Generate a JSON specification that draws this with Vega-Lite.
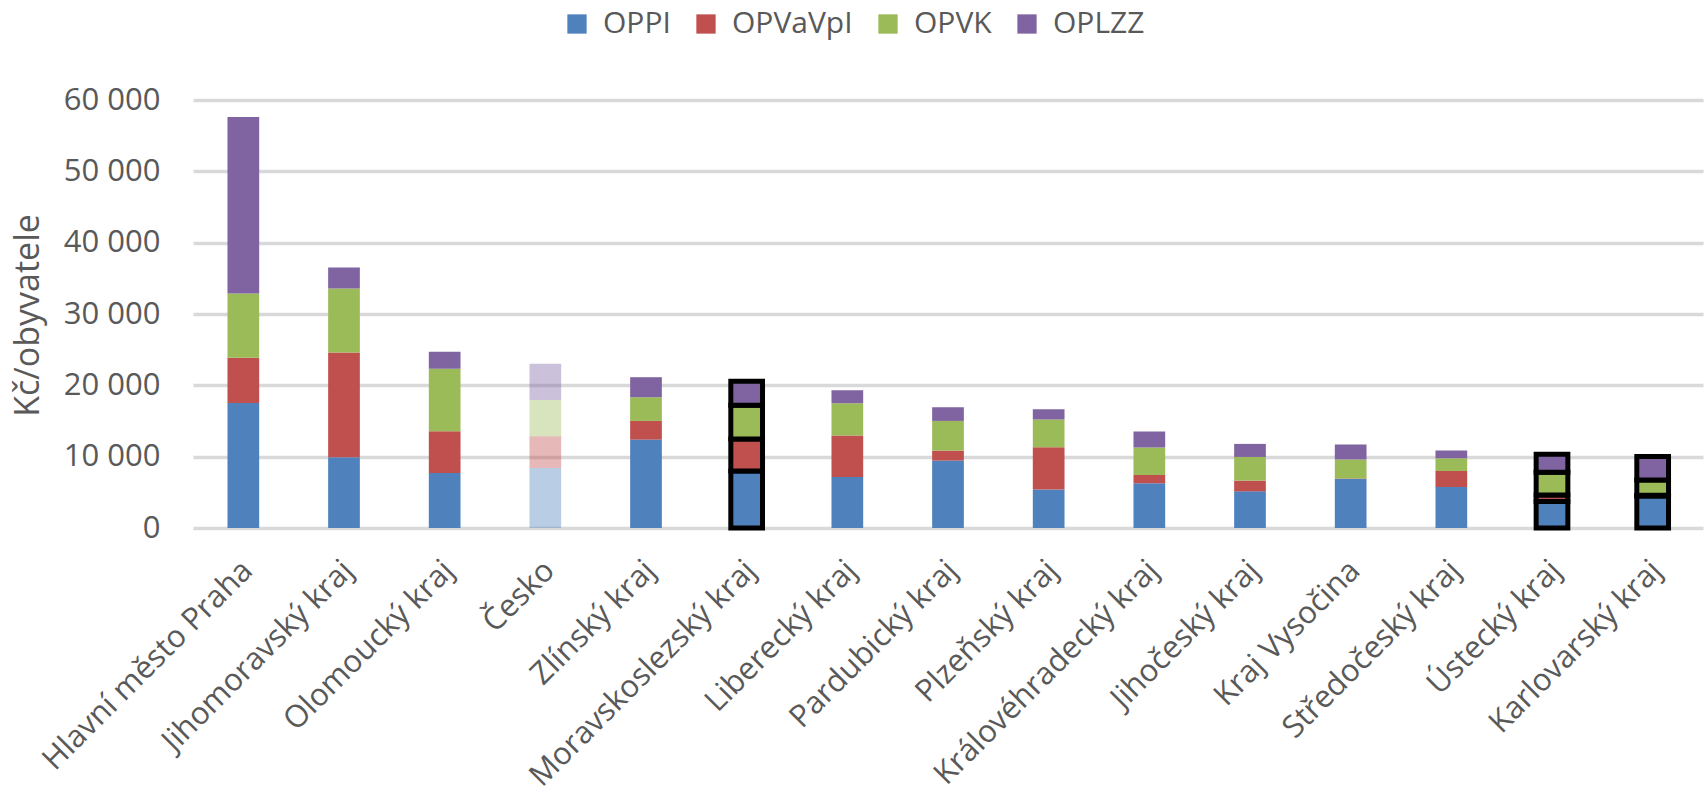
{
  "$schema": "https://vega.github.io/schema/vega-lite/v6.json",
  "autosize": {"type": "none"},
  "padding": {"left": 193, "top": 100, "right": 4, "bottom": 267},
  "width": 1510,
  "height": 428,
  "background": "white",
  "config": {
    "font": "Open Sans",
    "view": {"stroke": null}
  },
  "data": {
    "values": [
      {"kraj": "Hlavní město Praha", "program": "OPPI", "hodnota": 17540},
      {"kraj": "Hlavní město Praha", "program": "OPVaVpI", "hodnota": 6310},
      {"kraj": "Hlavní město Praha", "program": "OPVK", "hodnota": 9030},
      {"kraj": "Hlavní město Praha", "program": "OPLZZ", "hodnota": 24740},
      {"kraj": "Jihomoravský kraj", "program": "OPPI", "hodnota": 9920},
      {"kraj": "Jihomoravský kraj", "program": "OPVaVpI", "hodnota": 14680},
      {"kraj": "Jihomoravský kraj", "program": "OPVK", "hodnota": 8980},
      {"kraj": "Jihomoravský kraj", "program": "OPLZZ", "hodnota": 2950},
      {"kraj": "Olomoucký kraj", "program": "OPPI", "hodnota": 7720},
      {"kraj": "Olomoucký kraj", "program": "OPVaVpI", "hodnota": 5840},
      {"kraj": "Olomoucký kraj", "program": "OPVK", "hodnota": 8750},
      {"kraj": "Olomoucký kraj", "program": "OPLZZ", "hodnota": 2390},
      {"kraj": "Česko", "program": "OPPI", "hodnota": 8420},
      {"kraj": "Česko", "program": "OPVaVpI", "hodnota": 4440},
      {"kraj": "Česko", "program": "OPVK", "hodnota": 5100},
      {"kraj": "Česko", "program": "OPLZZ", "hodnota": 5050},
      {"kraj": "Zlínský kraj", "program": "OPPI", "hodnota": 12390},
      {"kraj": "Zlínský kraj", "program": "OPVaVpI", "hodnota": 2620},
      {"kraj": "Zlínský kraj", "program": "OPVK", "hodnota": 3320},
      {"kraj": "Zlínský kraj", "program": "OPLZZ", "hodnota": 2810},
      {"kraj": "Moravskoslezský kraj", "program": "OPPI", "hodnota": 8000},
      {"kraj": "Moravskoslezský kraj", "program": "OPVaVpI", "hodnota": 4490},
      {"kraj": "Moravskoslezský kraj", "program": "OPVK", "hodnota": 4720},
      {"kraj": "Moravskoslezský kraj", "program": "OPLZZ", "hodnota": 3370},
      {"kraj": "Liberecký kraj", "program": "OPPI", "hodnota": 7160},
      {"kraj": "Liberecký kraj", "program": "OPVaVpI", "hodnota": 5800},
      {"kraj": "Liberecký kraj", "program": "OPVK", "hodnota": 4530},
      {"kraj": "Liberecký kraj", "program": "OPLZZ", "hodnota": 1830},
      {"kraj": "Pardubický kraj", "program": "OPPI", "hodnota": 9450},
      {"kraj": "Pardubický kraj", "program": "OPVaVpI", "hodnota": 1400},
      {"kraj": "Pardubický kraj", "program": "OPVK", "hodnota": 4160},
      {"kraj": "Pardubický kraj", "program": "OPLZZ", "hodnota": 1920},
      {"kraj": "Plzeňský kraj", "program": "OPPI", "hodnota": 5380},
      {"kraj": "Plzeňský kraj", "program": "OPVaVpI", "hodnota": 5940},
      {"kraj": "Plzeňský kraj", "program": "OPVK", "hodnota": 3880},
      {"kraj": "Plzeňský kraj", "program": "OPLZZ", "hodnota": 1450},
      {"kraj": "Královéhradecký kraj", "program": "OPPI", "hodnota": 6270},
      {"kraj": "Královéhradecký kraj", "program": "OPVaVpI", "hodnota": 1170},
      {"kraj": "Královéhradecký kraj", "program": "OPVK", "hodnota": 3830},
      {"kraj": "Královéhradecký kraj", "program": "OPLZZ", "hodnota": 2250},
      {"kraj": "Jihočeský kraj", "program": "OPPI", "hodnota": 5140},
      {"kraj": "Jihočeský kraj", "program": "OPVaVpI", "hodnota": 1500},
      {"kraj": "Jihočeský kraj", "program": "OPVK", "hodnota": 3320},
      {"kraj": "Jihočeský kraj", "program": "OPLZZ", "hodnota": 1830},
      {"kraj": "Kraj Vysočina", "program": "OPPI", "hodnota": 6880},
      {"kraj": "Kraj Vysočina", "program": "OPVaVpI", "hodnota": 60},
      {"kraj": "Kraj Vysočina", "program": "OPVK", "hodnota": 2660},
      {"kraj": "Kraj Vysočina", "program": "OPLZZ", "hodnota": 2110},
      {"kraj": "Středočeský kraj", "program": "OPPI", "hodnota": 5750},
      {"kraj": "Středočeský kraj", "program": "OPVaVpI", "hodnota": 2250},
      {"kraj": "Středočeský kraj", "program": "OPVK", "hodnota": 1780},
      {"kraj": "Středočeský kraj", "program": "OPLZZ", "hodnota": 1070},
      {"kraj": "Ústecký kraj", "program": "OPPI", "hodnota": 3700},
      {"kraj": "Ústecký kraj", "program": "OPVaVpI", "hodnota": 930},
      {"kraj": "Ústecký kraj", "program": "OPVK", "hodnota": 3180},
      {"kraj": "Ústecký kraj", "program": "OPLZZ", "hodnota": 2530},
      {"kraj": "Karlovarský kraj", "program": "OPPI", "hodnota": 4490},
      {"kraj": "Karlovarský kraj", "program": "OPVaVpI", "hodnota": 100},
      {"kraj": "Karlovarský kraj", "program": "OPVK", "hodnota": 2150},
      {"kraj": "Karlovarský kraj", "program": "OPLZZ", "hodnota": 3270}
    ]
  },
  "transform": [
    {"calculate": "indexof(['OPPI','OPVaVpI','OPVK','OPLZZ'], datum.program)", "as": "poradi"}
  ],
  "mark": {"type": "bar", "stroke": "black"},
  "encoding": {
    "x": {
      "field": "kraj",
      "type": "nominal",
      "sort": null,
      "scale": {"paddingInner": 0.685, "paddingOuter": 0.3425},
      "axis": {
        "title": null,
        "domain": false,
        "ticks": false,
        "labelAngle": -45,
        "labelAlign": "right",
        "labelBaseline": "top",
        "labelPadding": 27,
        "labelOffset": -6,
        "labelFontSize": 31,
        "labelColor": "#595959",
        "labelLimit": 500,
        "labelOverlap": false
      }
    },
    "y": {
      "field": "hodnota",
      "type": "quantitative",
      "aggregate": "sum",
      "stack": "zero",
      "scale": {"domain": [0, 60000], "nice": false},
      "axis": {
        "title": "Kč/obyvatele",
        "values": [0, 10000, 20000, 30000, 40000, 50000, 60000],
        "labelExpr": "replace(format(datum.value, ',d'), ',', ' ')",
        "domain": false,
        "ticks": false,
        "gridColor": "#D9D9D9",
        "gridWidth": 3.5,
        "labelFontSize": 31,
        "labelColor": "#595959",
        "labelPadding": 33,
        "titleFontSize": 34,
        "titleFontWeight": "normal",
        "titleColor": "#595959",
        "titleAngle": -90,
        "titleX": -165,
        "titleY": 215,
        "titleAlign": "center",
        "titleBaseline": "middle"
      }
    },
    "color": {
      "field": "program",
      "type": "nominal",
      "sort": ["OPPI", "OPVaVpI", "OPVK", "OPLZZ"],
      "scale": {
        "domain": ["OPPI", "OPVaVpI", "OPVK", "OPLZZ"],
        "range": ["#4F81BD", "#C0504D", "#9BBB59", "#8064A2"]
      },
      "legend": {
        "title": null,
        "orient": "none",
        "legendX": 369,
        "legendY": -91,
        "padding": 0,
        "direction": "horizontal",
        "symbolType": "square",
        "symbolSize": 372,
        "symbolStrokeWidth": 0,
        "labelFontSize": 30,
        "labelColor": "#595959",
        "columnPadding": 20,
        "labelOffset": 11
      }
    },
    "order": {"field": "poradi", "type": "quantitative", "sort": "ascending"},
    "opacity": {
      "condition": {"test": "datum.kraj === 'Česko'", "value": 0.4},
      "value": 1
    },
    "strokeWidth": {
      "condition": {"test": "indexof(['Moravskoslezský kraj','Ústecký kraj','Karlovarský kraj'], datum.kraj) >= 0", "value": 5},
      "value": 0
    }
  }
}
